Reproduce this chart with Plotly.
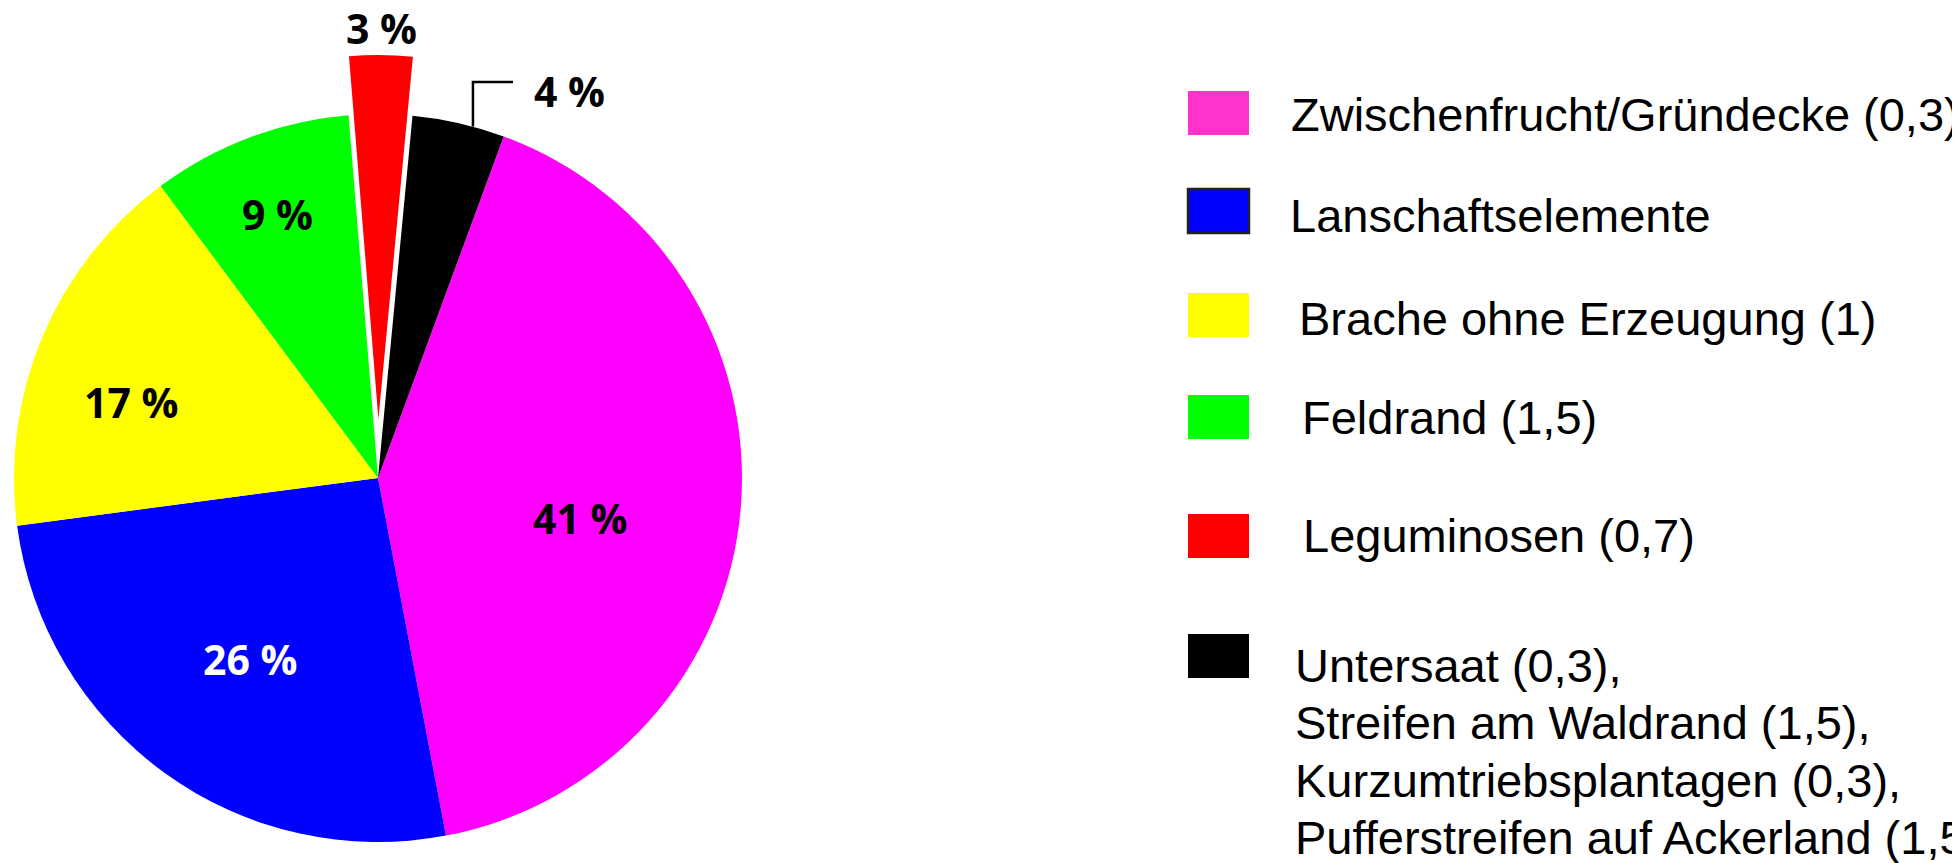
import math
import plotly.graph_objects as go

# ---------------- data ----------------
categories = [
    "Zwischenfrucht/Gründecke (0,3)",
    "Lanschaftselemente",
    "Brache ohne Erzeugung (1)",
    "Feldrand (1,5)",
    "Leguminosen (0,7)",
    "Untersaat (0,3),<br>Streifen am Waldrand (1,5),<br>Kurzumtriebsplantagen (0,3),<br>Pufferstreifen auf Ackerland (1,5)",
]
shares = [41.4, 25.9, 16.9, 8.9, 2.8, 4.1]
pulled = [False, False, False, False, True, False]

# ---------------- style ----------------
slice_colors = ["#FF00FF", "#0000FF", "#FFFF00", "#00FF00", "#FF0000", "#000000"]
legend_colors = ["#FF33CC", "#0000FF", "#FFFF00", "#00FF00", "#FF0000", "#000000"]
legend_border = [None, "#222222", None, None, None, None]
label_colors = ["black", "white", "black", "black", "black", "black"]
label_dtheta = [6.5, -0.5, -5.75, -0.2, 0.0, None]
label_rfrac = [0.566, 0.61, 0.709, 0.777, 1.074, None]

W, H = 1960, 863
OFF = 8  # page body margin of the browser
FW, FH = W - OFF, H - OFF
CX, CY, R = 378, 478, 364
ROT = 20.2
PULL = 0.162
LABEL_FONT = dict(family="Open Sans, Noto Sans, sans-serif", size=41)
LEG_FONT = dict(family="Liberation Sans, Arial, sans-serif", size=47, color="black")

def px(x):
    return (x - OFF) / FW

def py(y):
    return 1 - (y - OFF) / FH

# slice angles (clockwise from 12 o'clock)
total = sum(shares)
angles = []
a = ROT
for v in shares:
    a1 = a + v / total * 360.0
    angles.append((a, a1, (a + a1) / 2))
    a = a1

def polar(cx, cy, r, deg):
    t = math.radians(deg)
    return cx + r * math.sin(t), cy - r * math.cos(t)

fig = go.Figure()

# main pie (pulled slice left empty)
main_colors = [("rgba(0,0,0,0)" if p else c) for c, p in zip(slice_colors, pulled)]
fig.add_trace(go.Pie(
    labels=categories, values=shares, sort=False, direction="clockwise",
    rotation=ROT, marker=dict(colors=main_colors, line=dict(width=0)),
    textinfo="none", hoverinfo="skip", showlegend=False,
    domain=dict(x=[px(CX - R), px(CX + R)], y=[py(CY + R), py(CY - R)]),
))

# pulled slice(s) drawn as a shifted copy
centers = []
for i, p in enumerate(pulled):
    if p:
        cx2, cy2 = polar(CX, CY, PULL * R, angles[i][2])
    else:
        cx2, cy2 = CX, CY
    centers.append((cx2, cy2))
for i, p in enumerate(pulled):
    if not p:
        continue
    cx2, cy2 = centers[i]
    cols = [(c if j == i else "rgba(0,0,0,0)") for j, c in enumerate(slice_colors)]
    fig.add_trace(go.Pie(
        labels=categories, values=shares, sort=False, direction="clockwise",
        rotation=ROT, marker=dict(colors=cols, line=dict(width=0)),
        textinfo="none", hoverinfo="skip", showlegend=False,
        domain=dict(x=[px(cx2 - R), px(cx2 + R)], y=[py(cy2 + R), py(cy2 - R)]),
    ))

annotations = []
shapes = []

# percentage labels
for i, v in enumerate(shares):
    txt = f"<b>{round(v):.0f} %</b>"
    if label_rfrac[i] is not None:
        cx2, cy2 = centers[i]
        x, y = polar(cx2, cy2, label_rfrac[i] * R, angles[i][2] + label_dtheta[i])
        annotations.append(dict(
            x=px(x), y=py(y), xref="paper", yref="paper", text=txt, showarrow=False,
            xanchor="center", yanchor="middle",
            font=dict(LABEL_FONT, color=label_colors[i]),
        ))
    else:
        # leader line label
        x0, y0 = polar(CX, CY, R, angles[i][2] + 2.3)
        ye = y0 - 44.6
        xe = x0 + 40
        shapes.append(dict(
            type="path", xref="paper", yref="paper",
            path=f"M {px(x0)} {py(y0)} L {px(x0)} {py(ye)} L {px(xe)} {py(ye)}",
            line=dict(color="black", width=2.5),
        ))
        annotations.append(dict(
            x=px(xe + 19), y=py(ye + 9), xref="paper", yref="paper", text=txt,
            showarrow=False, xanchor="left", yanchor="middle",
            font=dict(LABEL_FONT, color=label_colors[i]),
        ))

# manual legend
sw_x0, sw_x1 = 1188, 1249
sw_top = [91, 189, 293, 395, 514, 634]
sw_h = 44
txt_x = [1289, 1288, 1297, 1300, 1301, 1293]
txt_y = [114, 215.5, 318, 417.5, 535.5, 665.5]
line_gap = 57.3
for i, name in enumerate(categories):
    bc = legend_border[i]
    shapes.append(dict(
        type="rect", xref="paper", yref="paper",
        x0=px(sw_x0), x1=px(sw_x1), y0=py(sw_top[i] + sw_h), y1=py(sw_top[i]),
        fillcolor=legend_colors[i],
        line=dict(color=bc if bc else legend_colors[i], width=2.5 if bc else 0),
    ))
    for k, part in enumerate(name.split("<br>")):
        annotations.append(dict(
            x=px(txt_x[i]), y=py(txt_y[i] + k * line_gap), xref="paper", yref="paper",
            text=part, showarrow=False, xanchor="left", yanchor="middle",
            font=LEG_FONT,
        ))

fig.update_layout(
    width=FW, height=FH, margin=dict(l=0, r=0, t=0, b=0),
    paper_bgcolor="white", plot_bgcolor="white",
    showlegend=False, annotations=annotations, shapes=shapes,
)

fig.write_html("out.html")
